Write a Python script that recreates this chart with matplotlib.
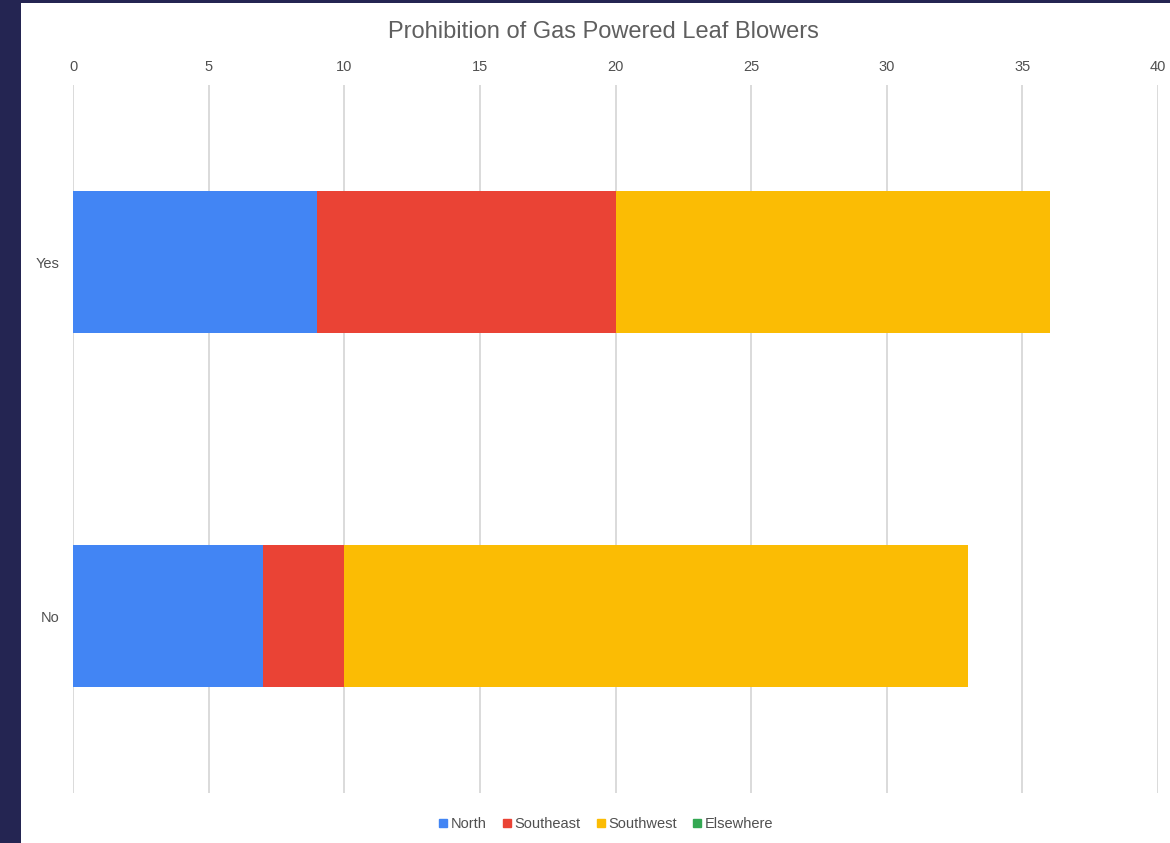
import matplotlib.pyplot as plt
from matplotlib.patches import Rectangle
from matplotlib.lines import Line2D

plt.rcParams['font.family'] = ['Liberation Sans', 'DejaVu Sans']

# Respuestas y conteo por región
respuestas = ['No', 'Yes']
north = [7, 9]
southeast = [3, 11]
southwest = [23, 16]
elsewhere = [0, 0]

series = ['North', 'Southeast', 'Southwest', 'Elsewhere']
colores = ['#4285F4', '#EA4335', '#FBBC04', '#34A853']
ticks_x = [0, 5, 10, 15, 20, 25, 30, 35, 40]

fig = plt.figure(figsize=(11.7, 8.43), dpi=100, facecolor='#242552')
# panel blanco sobre el fondo oscuro
fig.patches.append(Rectangle((21 / 1170, 0), 1 - 21 / 1170, 1 - 3 / 843,
                             transform=fig.transFigure, facecolor='white',
                             edgecolor='none', zorder=-5))

ax = fig.add_axes([73 / 1170, 1 - 793 / 843, (1158 - 73) / 1170, (793 - 85) / 843])
ax.set_zorder(1)
ax.set_facecolor('none')

izq = [0, 0]
for nombre, valores, color in zip(series, [north, southeast, southwest, elsewhere], colores):
    ax.barh(respuestas, valores, left=izq, height=0.4, color=color, zorder=2)
    izq = [a + b for a, b in zip(izq, valores)]

ax.set_xlim(0, 40)
ax.set_ylim(-0.5, 1.5)
ax.set_xticks(ticks_x)
ax.xaxis.tick_top()
ax.tick_params(axis='x', length=0, pad=8, labelsize=10.5, labelcolor='#505050')
ax.tick_params(axis='y', length=0, pad=9.5, labelsize=10.5, labelcolor='#505050')
ax.grid(axis='x', color='#dadada', linewidth=1.4, zorder=1)
for s in ax.spines.values():
    s.set_visible(False)

fig.text(603 / 1170, 1 - 32 / 843, 'Prohibition of Gas Powered Leaf Blowers',
         ha='center', va='center', fontsize=17, color='#5f5f5f')

handles = [Line2D([], [], marker='s', linestyle='none', markersize=6,
                  markerfacecolor=c, markeredgecolor=c) for c in colores]
leg = fig.legend(handles, series, loc='center', bbox_to_anchor=(606 / 1170, 1 - 824 / 843),
                 ncol=4, frameon=False, fontsize=10.5, labelcolor='#505050',
                 handlelength=0.6, handletextpad=0.2, columnspacing=1.1)
leg.set_zorder(2)

fig.savefig('out.png', dpi=100, facecolor=fig.get_facecolor())
